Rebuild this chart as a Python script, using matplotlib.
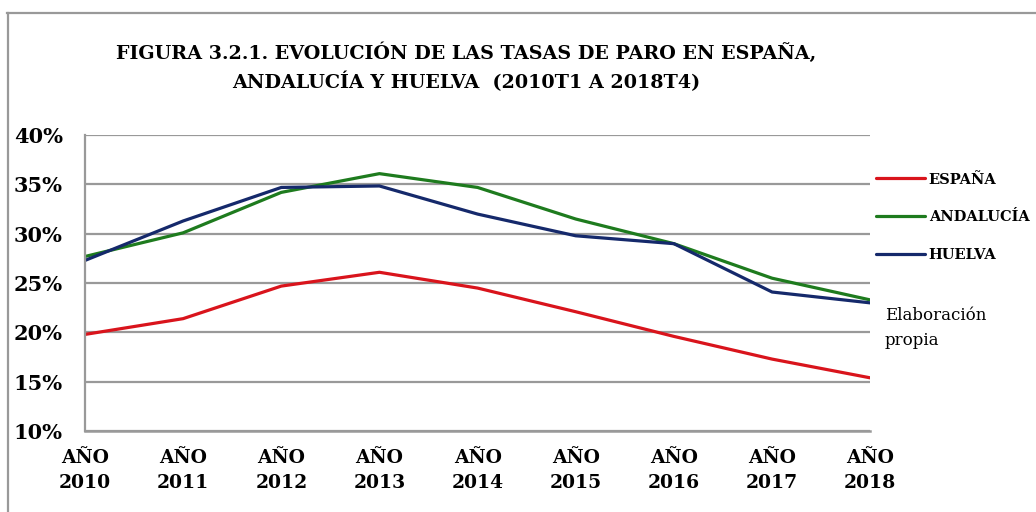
import matplotlib.pyplot as plt
from matplotlib.lines import Line2D

years = ['AÑO\n2010', 'AÑO\n2011', 'AÑO\n2012', 'AÑO\n2013', 'AÑO\n2014',
         'AÑO\n2015', 'AÑO\n2016', 'AÑO\n2017', 'AÑO\n2018']
espana = [19.8, 21.4, 24.7, 26.1, 24.5, 22.1, 19.6, 17.3, 15.4]
andalucia = [27.7, 30.1, 34.2, 36.1, 34.7, 31.5, 29.0, 25.5, 23.3]
huelva = [27.3, 31.3, 34.7, 34.85, 32.0, 29.8, 29.0, 24.1, 23.0]
yticks = [10, 15, 20, 25, 30, 35, 40]

fig = plt.figure(figsize=(10.36, 5.12), dpi=100)
ax = fig.add_axes([0.082, 0.158, 0.758, 0.578])

x = range(len(years))
ax.plot(x, espana, color='#d9141c', lw=2.3, label='ESPAÑA', solid_capstyle='round')
ax.plot(x, andalucia, color='#1e7b1e', lw=2.3, label='ANDALUCÍA', solid_capstyle='round')
ax.plot(x, huelva, color='#15296b', lw=2.3, label='HUELVA', solid_capstyle='round')

ax.set_xlim(0, len(years) - 1)
ax.set_ylim(10, 40)
ax.set_yticks(yticks)
ax.set_yticklabels([f'{v}%' for v in yticks], fontfamily='DejaVu Serif',
                   fontweight='bold', fontsize=15)
ax.set_xticks(list(x))
ax.set_xticklabels(years, fontfamily='DejaVu Serif',
                   fontweight='bold', fontsize=13.5, linespacing=1.5)
ax.tick_params(axis='both', length=0)
ax.tick_params(axis='y', pad=16)
ax.tick_params(axis='x', pad=13)

ax.grid(axis='y', color='#999999', lw=1.6)
ax.set_axisbelow(True)
for s in ['top', 'right']:
    ax.spines[s].set_visible(False)
ax.spines['left'].set_color('#999999')
ax.spines['left'].set_linewidth(1.6)
ax.spines['bottom'].set_color('#999999')
ax.spines['bottom'].set_linewidth(1.8)

leg = ax.legend(loc='upper left', bbox_to_anchor=(0.99, 0.918), frameon=False,
                handlelength=3.4, handletextpad=0.25, labelspacing=1.62,
                prop={'family': 'DejaVu Serif', 'weight': 'bold', 'size': 10.5})

fig.text(0.854, 0.359, 'Elaboración\npropia', fontfamily='DejaVu Serif',
         fontsize=12, linespacing=1.6, va='center', ha='left')

fig.text(0.45, 0.869, 'FIGURA 3.2.1. EVOLUCIÓN DE LAS TASAS DE PARO EN ESPAÑA,\n'
         'ANDALUCÍA Y HUELVA  (2010T1 A 2018T4)', fontfamily='DejaVu Serif',
         fontweight='bold', fontsize=13.8,
         ha='center', va='center', linespacing=1.5)

# outer frame of the chart area
fig.add_artist(Line2D([0.007, 1.0], [0.974, 0.974], color='#999999', lw=1.6))
fig.add_artist(Line2D([0.008, 0.008], [0.0, 0.974], color='#999999', lw=1.6))

fig.savefig('out.png', dpi=100)
